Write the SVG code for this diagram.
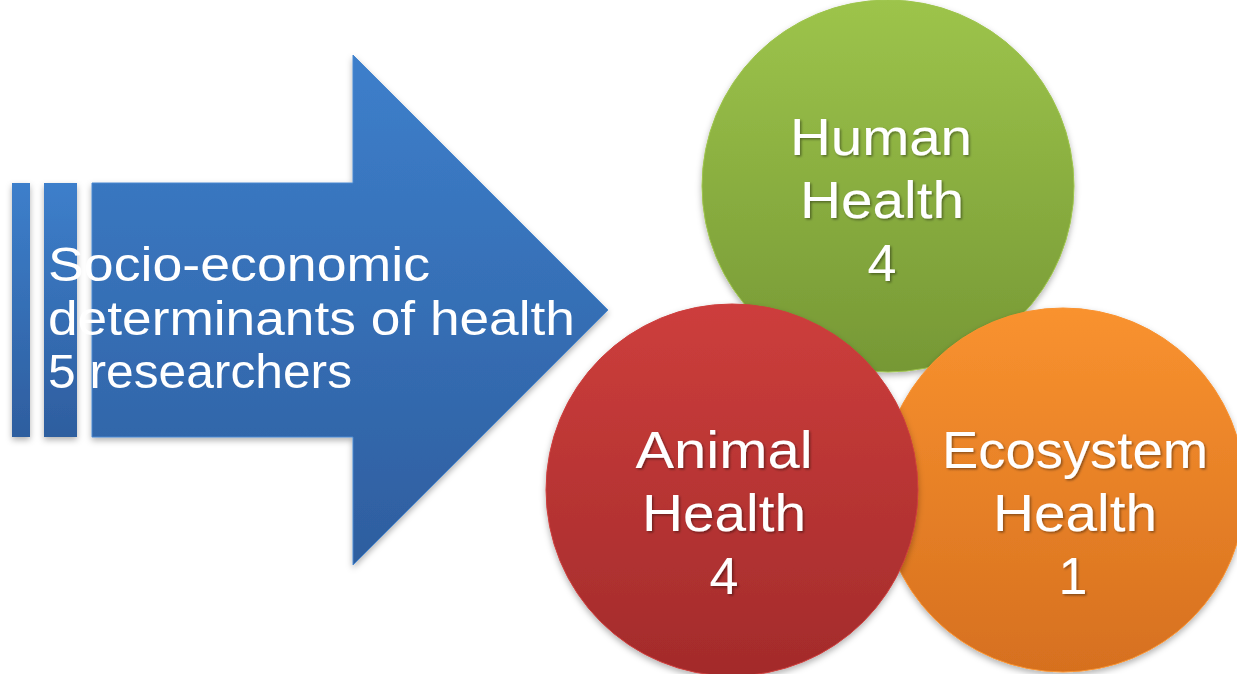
<svg xmlns="http://www.w3.org/2000/svg" width="1237" height="674" viewBox="0 0 1237 674">
<defs>
<linearGradient id="gBlue" x1="0" y1="0" x2="0" y2="1" gradientUnits="objectBoundingBox"><stop offset="0" stop-color="#3D7FCB"/><stop offset="1" stop-color="#2E5E9F"/></linearGradient>
<linearGradient id="gBlueArrow" x1="0" y1="55" x2="0" y2="565" gradientUnits="userSpaceOnUse"><stop offset="0" stop-color="#3D7FCB"/><stop offset="1" stop-color="#2E5E9F"/></linearGradient>
<linearGradient id="gGreen" x1="0" y1="0" x2="0" y2="1"><stop offset="0" stop-color="#9DC44B"/><stop offset="1" stop-color="#769835"/></linearGradient>
<linearGradient id="gRed" x1="0" y1="0" x2="0" y2="1"><stop offset="0" stop-color="#CD3E3C"/><stop offset="1" stop-color="#A32B2B"/></linearGradient>
<linearGradient id="gOrange" x1="0" y1="0" x2="0" y2="1"><stop offset="0" stop-color="#F9922F"/><stop offset="1" stop-color="#D6701F"/></linearGradient>
<filter id="sh" x="-10%" y="-10%" width="120%" height="120%"><feDropShadow dx="0" dy="3" stdDeviation="3" flood-color="#000" flood-opacity="0.3"/></filter>
<filter id="tsh" x="-10%" y="-10%" width="120%" height="130%"><feDropShadow dx="1.5" dy="1.5" stdDeviation="1" flood-color="#000" flood-opacity="0.4"/></filter>
</defs>
<style>
.lbl{font-family:"Century Gothic","URW Gothic","Liberation Sans",sans-serif;fill:#fff;text-anchor:middle;font-size:52px;filter:url(#tsh)}
.ltxt{font-family:"Century Gothic","URW Gothic","Liberation Sans",sans-serif;fill:#fff;font-size:48px}
</style>
<g id="arrow" filter="url(#sh)">
<rect x="12" y="183" width="18" height="254" fill="url(#gBlue)"/>
<rect x="44" y="183" width="33" height="254" fill="url(#gBlue)"/>
<path d="M92,183 H353 V55 L608,310 L353,565 V437 H92 Z" fill="url(#gBlueArrow)" stroke="#4A88D0" stroke-width="1"/>
</g>
<g id="arrow-label">
<text class="ltxt" x="48" y="281" textLength="382" lengthAdjust="spacingAndGlyphs">Socio-economic</text>
<text class="ltxt" x="48" y="335" textLength="527" lengthAdjust="spacingAndGlyphs">determinants of health</text>
<text class="ltxt" x="48" y="388" textLength="304" lengthAdjust="spacingAndGlyphs">5 researchers</text>
</g>
<g id="human" filter="url(#sh)">
<circle cx="888" cy="186" r="186" fill="url(#gGreen)" stroke="#9DC44B" stroke-width="1"/>
<text class="lbl" x="881" y="155" textLength="182" lengthAdjust="spacingAndGlyphs">Human</text>
<text class="lbl" x="882" y="218" textLength="164" lengthAdjust="spacingAndGlyphs">Health</text>
<text class="lbl" x="882" y="281">4</text>
</g>
<g id="ecosystem" filter="url(#sh)">
<circle cx="1063" cy="490" r="182" fill="url(#gOrange)" stroke="#F9922F" stroke-width="1"/>
<text class="lbl" x="1075" y="468" textLength="266" lengthAdjust="spacingAndGlyphs">Ecosystem</text>
<text class="lbl" x="1075" y="531" textLength="164" lengthAdjust="spacingAndGlyphs">Health</text>
<text class="lbl" x="1073" y="594">1</text>
</g>
<g id="animal" filter="url(#sh)">
<circle cx="732" cy="490" r="186" fill="url(#gRed)" stroke="#CD3E3C" stroke-width="1"/>
<text class="lbl" x="724" y="468" textLength="177" lengthAdjust="spacingAndGlyphs">Animal</text>
<text class="lbl" x="724" y="531" textLength="164" lengthAdjust="spacingAndGlyphs">Health</text>
<text class="lbl" x="724" y="594">4</text>
</g>
<g id="connectors"/>
</svg>
